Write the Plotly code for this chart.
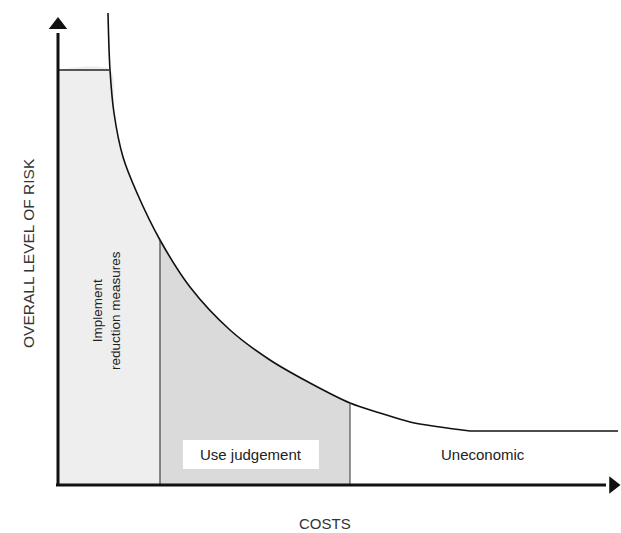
import plotly.graph_objects as go

# Curve: overall level of risk vs costs (arbitrary units)
curve_cost = [50, 52, 56, 65, 79, 102, 132, 172, 212, 252, 292, 322, 352, 382, 412]
curve_risk = [472, 415, 372, 328, 292, 245, 198, 155, 125, 102, 82, 72, 63, 58, 54]
# Flat tail of the curve
tail_cost = [412, 560]
tail_risk = [54, 54]

# Zone boundaries
cap_risk = 415          # horizontal cap of "implement" zone
zone1_end = 102         # end of "Implement reduction measures"
zone2_end = 292         # end of "Use judgement"
axis_x_max = 555
axis_y_max = 460

# Region labels
labels = ["Implement<br>reduction measures", "Use judgement", "Uneconomic"]

FONT = "Arial, Liberation Sans, sans-serif"
SMOOTH = 0.9

fig = go.Figure()

# Zone 1 fill (light grey): cap then curve
z1_x = [0, 52] + [c for c in curve_cost if 52 < c <= zone1_end]
z1_y = [cap_risk, cap_risk] + [r for c, r in zip(curve_cost, curve_risk) if 52 < c <= zone1_end]
fig.add_trace(go.Scatter(x=z1_x, y=z1_y, mode="lines",
                         line=dict(width=0, shape="spline", smoothing=SMOOTH),
                         fill="tozeroy", fillcolor="#eeeeee", hoverinfo="skip", showlegend=False))

# Zone 2 fill (darker grey)
z2_x = [c for c in curve_cost if zone1_end <= c <= zone2_end]
z2_y = [r for c, r in zip(curve_cost, curve_risk) if zone1_end <= c <= zone2_end]
fig.add_trace(go.Scatter(x=z2_x, y=z2_y, mode="lines",
                         line=dict(width=0, shape="spline", smoothing=SMOOTH),
                         fill="tozeroy", fillcolor="#dadada", hoverinfo="skip", showlegend=False))

# Main curve
fig.add_trace(go.Scatter(x=curve_cost, y=curve_risk, mode="lines",
                         line=dict(color="#111111", width=1.6, shape="spline", smoothing=SMOOTH),
                         hoverinfo="skip", showlegend=False))
fig.add_trace(go.Scatter(x=tail_cost, y=tail_risk, mode="lines",
                         line=dict(color="#111111", width=1.6),
                         hoverinfo="skip", showlegend=False))

# Horizontal cap
fig.add_trace(go.Scatter(x=[0, 51], y=[cap_risk, cap_risk], mode="lines",
                         line=dict(color="#222222", width=1.3), hoverinfo="skip", showlegend=False))

# Vertical boundaries
r1 = curve_risk[curve_cost.index(zone1_end)]
r2 = curve_risk[curve_cost.index(zone2_end)]
fig.add_trace(go.Scatter(x=[zone1_end, zone1_end], y=[0, r1], mode="lines",
                         line=dict(color="#222222", width=1), hoverinfo="skip", showlegend=False))
fig.add_trace(go.Scatter(x=[zone2_end, zone2_end], y=[0, r2], mode="lines",
                         line=dict(color="#333333", width=1), hoverinfo="skip", showlegend=False))

# White box behind "Use judgement"
fig.add_shape(type="rect", x0=125, x1=261, y0=16, y1=45, xref="x", yref="y",
              fillcolor="white", line=dict(width=0))

# Axes lines
fig.add_trace(go.Scatter(x=[-2, 548], y=[0, 0], mode="lines",
                         line=dict(color="#111111", width=3), hoverinfo="skip", showlegend=False))
fig.add_trace(go.Scatter(x=[0, 0], y=[-1, 452], mode="lines",
                         line=dict(color="#111111", width=3), hoverinfo="skip", showlegend=False))
fig.add_trace(go.Scatter(x=[0], y=[axis_y_max], mode="markers",
                         marker=dict(symbol="triangle-up", size=16, color="#111111"),
                         hoverinfo="skip", showlegend=False))
fig.add_trace(go.Scatter(x=[axis_x_max], y=[0], mode="markers",
                         marker=dict(symbol="triangle-right", size=15, color="#111111"),
                         hoverinfo="skip", showlegend=False))

# Labels
fig.add_annotation(x=48, y=174, text=labels[0], textangle=-90, showarrow=False,
                   font=dict(family=FONT, size=13.5, color="#222222"), align="center")
fig.add_annotation(x=193, y=31, text=labels[1], showarrow=False,
                   font=dict(family=FONT, size=15, color="#222222"))
fig.add_annotation(x=425, y=31, text=labels[2], showarrow=False,
                   font=dict(family=FONT, size=15, color="#222222"))
fig.add_annotation(x=-30, y=232, text="OVERALL LEVEL OF RISK", textangle=-90, showarrow=False,
                   font=dict(family=FONT, size=15.5, color="#333333"))
fig.add_annotation(x=267, y=-38, text="COSTS", showarrow=False,
                   font=dict(family=FONT, size=15, color="#333333"))

fig.update_layout(
    width=621, height=533,
    margin=dict(l=0, r=0, t=0, b=0),
    paper_bgcolor="white", plot_bgcolor="white",
    xaxis=dict(range=[-58, 563], visible=False, fixedrange=True),
    yaxis=dict(range=[-48, 485], visible=False, fixedrange=True),
)

fig.write_html("out.html", config={"displayModeBar": False},
               post_script="document.body.style.margin='0';document.body.style.overflow='hidden';")
